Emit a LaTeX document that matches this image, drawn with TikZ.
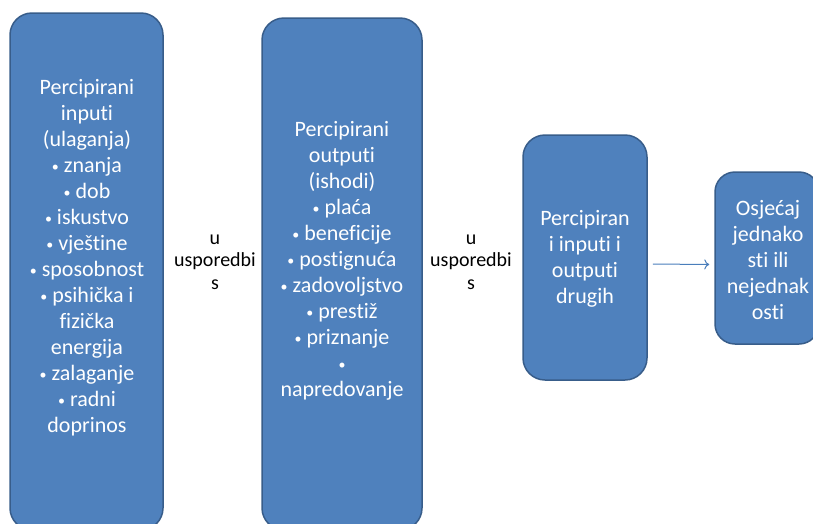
\documentclass[tikz,border=0pt]{standalone}
\usepackage{fontspec}
\setmainfont{Carlito}[Ligatures={NoCommon,NoContextual}]
\usetikzlibrary{arrows.meta}
\definecolor{boxfill}{HTML}{4F81BD}
\definecolor{boxedge}{HTML}{385D8A}
\definecolor{arrowcol}{HTML}{4A7EBB}
\newcommand\bul{\raisebox{1.5pt}{\fontsize{14}{14}\selectfont •}}
\begin{document}
\begin{tikzpicture}[x=1pt,y=-1pt,
  blok/.style={draw=boxedge, line width=1.5pt, fill=boxfill, rounded corners=22pt, inner sep=0pt},
  btext/.style={text=white, align=center, font=\fontsize{22}{26}\selectfont, inner sep=0pt},
  ctext/.style={text=black, align=center, font=\fontsize{20}{22.5}\selectfont, inner sep=0pt}]
\useasboundingbox (0,0) rectangle (813,523);
\clip (0,0) rectangle (813,523);
\node[blok, minimum width=153pt, minimum height=517pt] (b1) at (86.5,271.5) {};
\node[blok, minimum width=160pt, minimum height=512pt] (b2) at (342,274) {};
\node[blok, minimum width=124pt, minimum height=245pt] (b3) at (585,257.5) {};
\node[blok, minimum width=104pt, minimum height=172pt, rounded corners=20pt] (b4) at (767,258) {};
\node[btext] (t1) at (87,258) {Percipirani\\inputi\\(ulaganja)\\\bul{} znanja\\\bul{} dob\\\bul{} iskustvo\\\bul{} vještine\\\bul{} sposobnost\\\bul{} psihička i\\fizička\\energija\\\bul{} zalaganje\\\bul{} radni\\doprinos};
\node[btext] (t2) at (342,261) {Percipirani\\outputi\\(ishodi)\\\bul{} plaća\\\bul{} beneficije\\\bul{} postignuća\\\bul{} zadovoljstvo\\\bul{} prestiž\\\bul{} priznanje\\\bul\\napredovanje};
\node[btext] (t3) at (585,259) {Percipiran\\i inputi i\\outputi\\drugih};
\node[btext] (t4) at (768,260) {Osjećaj\\jednako\\sti ili\\nejednak\\osti};
\node[ctext] (c1) at (215,262) {u\\usporedbi\\s};
\node[ctext] (c2) at (471,262) {u\\usporedbi\\s};
\draw[arrowcol, line width=1pt, -{To[length=5pt,width=10pt]}, shorten <=5pt, shorten >=5pt]
  ([yshift=-6.5pt]b3.east) -- ([yshift=-6.5pt]b4.west);
\end{tikzpicture}
\end{document}
